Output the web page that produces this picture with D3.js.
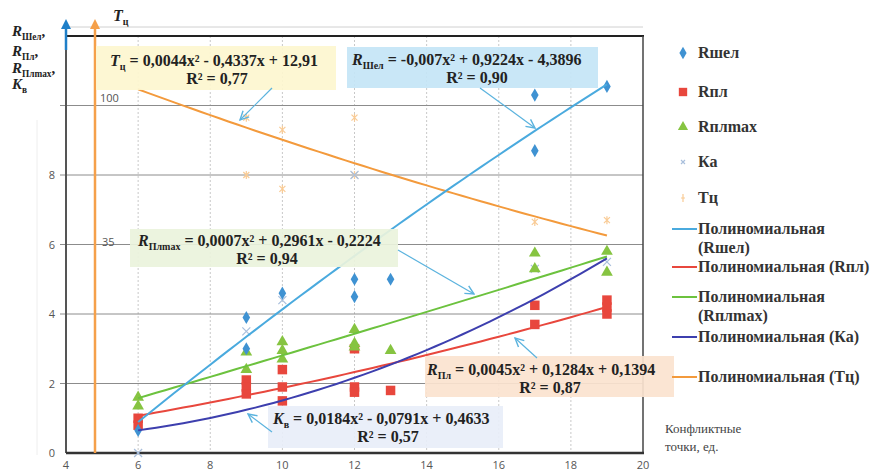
<!DOCTYPE html>
<html>
<head>
<meta charset="utf-8">
<script src="https://cdn.jsdelivr.net/npm/d3@7"></script>
<style>
  body { margin: 0; background: #fff; }
  svg { display: block; }
  .tick-lbl { font-family: "Open Sans", "DejaVu Sans", sans-serif; font-size: 11px; fill: #555; }
  .eq { font-family: "Liberation Serif", "Times New Roman", serif; font-weight: bold; font-size: 16px; fill: #222; }
  .leg { font-family: "Liberation Serif", "Times New Roman", serif; font-weight: bold; font-size: 16px; fill: #333; }
</style>
</head>
<body>
<svg id="chart" width="874" height="474"></svg>
<script>
// ---------------- data ----------------
const xTicks = [4, 6, 8, 10, 12, 14, 16, 18, 20]
const yTicks = [0, 2, 4, 6, 8]
const yGrid = [2, 4, 6, 8, 10]

const rshelPts = [[6, 0.65], [9, 3.9], [9, 3.0], [10, 4.6], [12, 5.0], [12, 4.5], [13, 5.0], [17, 10.3], [17, 8.7], [19, 10.55]]
const rplPts = [[6, 1.0], [6, 0.8], [9, 2.1], [9, 1.9], [9, 1.7], [10, 2.4], [10, 1.9], [10, 1.5],
    [12, 3.0], [12, 1.9], [12, 1.75], [13, 1.8], [17, 4.25], [17, 3.7], [19, 4.4], [19, 4.2], [19, 4.0]]
const rplmaxPts = [[6, 1.6], [6, 1.35], [9, 2.9], [9, 2.4], [10, 3.2], [10, 2.95], [10, 2.7],
    [12, 3.55], [12, 3.15], [12, 3.05], [13, 2.95], [17, 5.75], [17, 5.3], [19, 5.8], [19, 5.2]]
const kaPts = [[6, 0], [9, 3.5], [10, 4.4], [12, 8.0], [17, 5.3], [19, 5.5]]
const tcPts = [[9, 9.65], [9, 8.0], [10, 9.3], [10, 7.6], [12, 9.65], [12, 8.0], [17, 6.65], [19, 6.7]]

// polynomial trend coefficients [a, b, c] for a*x^2 + b*x + c, as printed on the chart
const trendRshel = [-0.007, 0.9224, -4.3896]
const trendRpl = [0.0045, 0.1284, 0.1394]
const trendRplmax = [0.0007, 0.2961, -0.2224]
const trendKa = [0.0184, -0.0791, 0.4633]
const trendTc = [0.0044, -0.4337, 12.91]
const trendRange = [6, 19]

const legendPts = ["Rшел", "Rпл", "Rплmax", "Ка", "Tц"]
const legendLines = [["Полиномиальная", "(Rшел)"], ["Полиномиальная (Rпл)"], ["Полиномиальная", "(Rплmax)"],
    ["Полиномиальная (Ка)"], ["Полиномиальная (Tц)"]]

/********************************* drawing *********************************/
const col = {
    rshel: "#3f92d2", rshelLine: "#4aaade",
    rpl: "#e8473d", rplLine: "#e8473d",
    rplmax: "#86c441", rplmaxLine: "#6cc23e",
    ka: "#a9bfdc", kaLine: "#3d3fae",
    tc: "#f9cb95", tcLine: "#f39a3c",
    arrow: "#5bb3de"
}
const svg = d3.select("#chart")
const plot = { left: 66, right: 643, top: 36, bottom: 453 }

let xScale = d3.scaleLinear().domain([4, 20]).range([plot.left, plot.right])
let yScale = d3.scaleLinear().domain([0, 12]).range([plot.bottom, plot.top])

const defs = svg.append("defs")
defs.append("marker").attr("id", "arr").attr("viewBox", "0 0 10 10").attr("refX", 9).attr("refY", 5)
    .attr("markerWidth", 9).attr("markerHeight", 9).attr("orient", "auto")
    .append("path").attr("d", "M1,1 L9,5 L1,9").attr("fill", "none").attr("stroke", col.arrow).attr("stroke-width", 1.3)
defs.append("marker").attr("id", "upB").attr("viewBox", "0 0 10 10").attr("refX", 5).attr("refY", 5)
    .attr("markerWidth", 4).attr("markerHeight", 4).attr("orient", "auto")
    .append("path").attr("d", "M0,0 L10,5 L0,10 z").attr("fill", "#1f7fc8")
defs.append("marker").attr("id", "upO").attr("viewBox", "0 0 10 10").attr("refX", 5).attr("refY", 5)
    .attr("markerWidth", 4).attr("markerHeight", 4).attr("orient", "auto")
    .append("path").attr("d", "M0,0 L10,5 L0,10 z").attr("fill", "#f5a04a")

// faint outer frame line on the left
svg.append("line").attr("x1", 37).attr("x2", 37).attr("y1", 120).attr("y2", 455)
    .attr("stroke", "#eee").attr("stroke-width", 1)

// vertical dotted grid
svg.append("g").selectAll("line").data(xTicks.slice(1, -1)).enter().append("line")
    .attr("x1", d => xScale(d)).attr("x2", d => xScale(d))
    .attr("y1", plot.top).attr("y2", plot.bottom)
    .attr("stroke", "#c8c8c8").attr("stroke-width", 1).attr("stroke-dasharray", "2,2")

// horizontal grid
svg.append("g").selectAll("line").data(yGrid).enter().append("line")
    .attr("x1", plot.left - 6).attr("x2", plot.right)
    .attr("y1", d => yScale(d)).attr("y2", d => yScale(d))
    .attr("stroke", "#8c8c8c").attr("stroke-width", 1)

// y tick labels
svg.append("g").selectAll("text").data(yTicks).enter().append("text")
    .attr("class", "tick-lbl").attr("x", 55).attr("y", d => yScale(d) + 4)
    .attr("text-anchor", "end").text(d => d)
// x tick labels
svg.append("g").selectAll("text").data(xTicks).enter().append("text")
    .attr("class", "tick-lbl").attr("x", d => xScale(d)).attr("y", 469)
    .attr("text-anchor", "middle").text(d => d)

// stray secondary-axis labels
svg.append("text").attr("class", "tick-lbl").attr("x", 100).attr("y", 102).text("100")
svg.append("text").attr("class", "tick-lbl").attr("x", 102).attr("y", 246).text("35")

// frame
svg.append("line").attr("x1", plot.left).attr("x2", plot.right).attr("y1", 27).attr("y2", 27)
    .attr("stroke", "#d0d0d0").attr("stroke-width", 1)
svg.append("line").attr("x1", plot.left).attr("x2", plot.right + 1).attr("y1", plot.top).attr("y2", plot.top)
    .attr("stroke", "#222").attr("stroke-width", 2.2)
svg.append("line").attr("x1", plot.right).attr("x2", plot.right).attr("y1", plot.top).attr("y2", plot.bottom)
    .attr("stroke", "#444").attr("stroke-width", 1.5)
svg.append("line").attr("x1", plot.left).attr("x2", plot.left).attr("y1", 48).attr("y2", plot.bottom)
    .attr("stroke", "#555").attr("stroke-width", 2)
svg.append("line").attr("x1", plot.left).attr("x2", plot.right + 1).attr("y1", plot.bottom).attr("y2", plot.bottom)
    .attr("stroke", "#333").attr("stroke-width", 2.6)

// axis arrows
svg.append("line").attr("x1", plot.left).attr("x2", plot.left).attr("y1", 50).attr("y2", 24)
    .attr("stroke", "#1f7fc8").attr("stroke-width", 2.5).attr("marker-end", "url(#upB)")
svg.append("line").attr("x1", 95).attr("x2", 95).attr("y1", plot.bottom).attr("y2", 24)
    .attr("stroke", "#f5a04a").attr("stroke-width", 2.5).attr("marker-end", "url(#upO)")

// axis titles
function subLabel(x, y, main, sub, size, italic) {
    const t = svg.append("text").attr("x", x).attr("y", y)
        .style("font-family", "Liberation Serif, serif").style("font-weight", "bold")
        .style("font-size", size + "px").style("fill", "#222")
    t.append("tspan").style("font-style", italic ? "italic" : "normal").text(main)
    t.append("tspan").attr("dy", size * 0.25).style("font-size", (size * 0.62) + "px").text(sub)
    return t
}
subLabel(12, 36, "R", "Шел", 15, true).append("tspan").attr("dy", -4).text(",")
subLabel(12, 56, "R", "Пл", 15, true).append("tspan").attr("dy", -4).text(",")
subLabel(12, 73, "R", "Плmax", 15, true).append("tspan").attr("dy", -4).text(",")
subLabel(12, 89, "K", "в", 15, true)
subLabel(113, 21, "T", "ц", 16, true)

// trend lines
function trendPath(coef) {
    const pts = d3.range(trendRange[0], trendRange[1] + 0.001, 0.25)
    return d3.line().x(d => xScale(d)).y(d => yScale(coef[0] * d * d + coef[1] * d + coef[2]))(pts)
}

// markers
const sym = (type, size) => d3.symbol().type(type).size(size)
function drawPts(pts, type, size, fill) {
    svg.append("g").selectAll("path").data(pts).enter().append("path")
        .attr("transform", d => "translate(" + xScale(d[0]) + "," + yScale(d[1]) + ")")
        .attr("d", sym(type, size)).attr("fill", fill)
}
function drawCross(pts, color, r, star) {
    const g = svg.append("g")
    pts.forEach(d => {
        const cx = xScale(d[0]), cy = yScale(d[1])
        g.append("path").attr("d", `M${cx - r},${cy - r}L${cx + r},${cy + r}M${cx - r},${cy + r}L${cx + r},${cy - r}` + (star ? `M${cx},${cy - r - 1}L${cx},${cy + r + 1}` : ""))
            .attr("stroke", color).attr("stroke-width", 1.2).attr("fill", "none")
    })
}
drawCross(tcPts, col.tc, 3, true)
drawCross(kaPts, col.ka, 4, false)
drawPts(rplPts, d3.symbolSquare, 90, col.rpl)
drawPts(rplmaxPts, d3.symbolTriangle, 60, col.rplmax)
drawPts(rshelPts, d3.symbolDiamond, 50, col.rshel)

const trends = [[trendTc, col.tcLine], [trendRpl, col.rplLine], [trendRplmax, col.rplmaxLine], [trendKa, col.kaLine], [trendRshel, col.rshelLine]]
svg.append("g").selectAll("path").data(trends).enter().append("path")
    .attr("d", d => trendPath(d[0])).attr("fill", "none")
    .attr("stroke", d => d[1]).attr("stroke-width", 2)

// equation boxes
function eqBox(bx, by, bw, bh, fill, x1, y1, main, sub, rest, r2, r2x) {
    svg.append("rect").attr("x", bx).attr("y", by).attr("width", bw).attr("height", bh)
        .attr("fill", fill).attr("opacity", 0.92)
    const t = svg.append("text").attr("class", "eq").attr("x", x1).attr("y", y1)
    t.append("tspan").style("font-style", "italic").text(main)
    t.append("tspan").attr("dy", 4).style("font-size", "10px").text(sub)
    t.append("tspan").attr("dy", -4).text(rest)
    svg.append("text").attr("class", "eq").attr("x", r2x).attr("y", y1 + 18)
        .attr("text-anchor", "middle").text(r2)
}
function arrow(x1, y1, x2, y2) {
    svg.append("line").attr("x1", x1).attr("y1", y1).attr("x2", x2).attr("y2", y2)
        .attr("stroke", col.arrow).attr("stroke-width", 1.2).attr("marker-end", "url(#arr)")
}

eqBox(96, 46, 240, 44, "#fdf6cf", 110, 66, "T", "ц", " = 0,0044x² - 0,4337x + 12,91", "R² = 0,77", 217)
arrow(272, 88, 240, 120)
eqBox(347, 47, 251, 41, "#c4e5f6", 352, 65, "R", "Шел", " = -0,007x² + 0,9224x - 4,3896", "R² = 0,90", 477)
arrow(480, 88, 535, 128)
eqBox(130, 229, 268, 38, "#eaf3dc", 138, 246, "R", "Плmax", " = 0,0007x² + 0,2961x - 0,2224", "R² = 0,94", 267)
arrow(398, 250, 474, 294)
eqBox(425, 356, 249, 41, "#fbe3cf", 427, 375, "R", "Пл", " = 0,0045x² + 0,1284x + 0,1394", "R² = 0,87", 550)
arrow(537, 358, 515, 338)
eqBox(268, 406, 235, 42, "#e8eef9", 273, 424, "K", "в", " = 0,0184x² - 0,0791x + 0,4633", "R² = 0,57", 388)
arrow(272, 432, 248, 414)

// legend
const legMarkY = [53, 92, 127, 162, 198]
const lg = svg.append("g")
lg.append("path").attr("transform", `translate(683,${legMarkY[0]})`).attr("d", sym(d3.symbolDiamond, 45)()).attr("fill", col.rshel)
lg.append("path").attr("transform", `translate(683,${legMarkY[1]})`).attr("d", sym(d3.symbolSquare, 70)()).attr("fill", col.rpl)
lg.append("path").attr("transform", `translate(683,${legMarkY[2]})`).attr("d", sym(d3.symbolTriangle, 45)()).attr("fill", col.rplmax)
lg.append("path").attr("d", `M681,${legMarkY[3] - 2}L685,${legMarkY[3] + 2}M681,${legMarkY[3] + 2}L685,${legMarkY[3] - 2}`).attr("stroke", col.ka).attr("stroke-width", 1.2)
lg.append("path").attr("d", `M683,${legMarkY[4] - 4}L683,${legMarkY[4] + 4}M681,${legMarkY[4]}L685,${legMarkY[4]}`).attr("stroke", col.tc).attr("stroke-width", 1.2)
legendPts.forEach((s, i) => {
    lg.append("text").attr("class", "leg").attr("x", 698).attr("y", legMarkY[i] + 5).text(s)
})
const legLineY = [229, 267, 297, 337, 377]
const legLineCol = [col.rshelLine, col.rplLine, col.rplmaxLine, col.kaLine, col.tcLine]
legendLines.forEach((lines, i) => {
    lg.append("line").attr("x1", 672).attr("x2", 697).attr("y1", legLineY[i]).attr("y2", legLineY[i])
        .attr("stroke", legLineCol[i]).attr("stroke-width", 2)
    lines.forEach((s, j) => {
        lg.append("text").attr("class", "leg").attr("x", 698).attr("y", legLineY[i] + 5 + j * 19).text(s)
    })
})
svg.append("text").attr("x", 665).attr("y", 433)
    .style("font-family", "Liberation Serif, serif").style("font-size", "13px").style("fill", "#444").text("Конфликтные")
svg.append("text").attr("x", 665).attr("y", 451)
    .style("font-family", "Liberation Serif, serif").style("font-size", "13px").style("fill", "#444").text("точки, ед.")
</script>
</body>
</html>
